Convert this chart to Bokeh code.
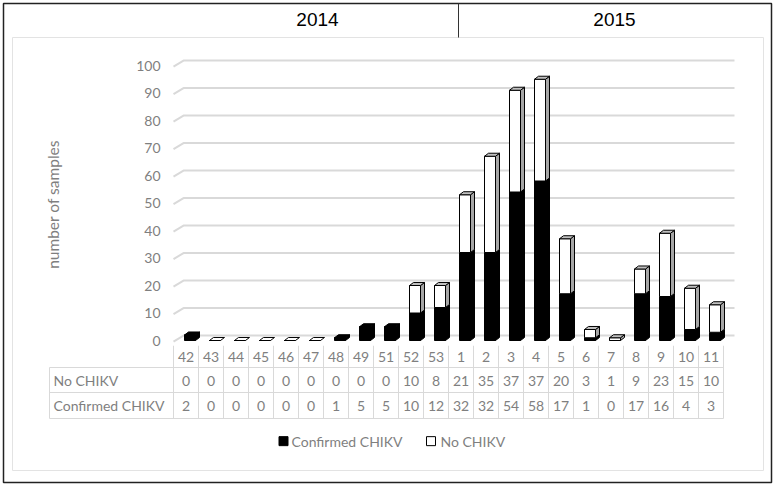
from bokeh.plotting import figure
from bokeh.models import Range1d, ColumnDataSource
from bokeh.core.properties import value
from bokeh.embed import file_html
from bokeh.resources import INLINE
import math

# ---------------- data ----------------
weeks = ["42", "43", "44", "45", "46", "47", "48", "49", "51", "52", "53",
         "1", "2", "3", "4", "5", "6", "7", "8", "9", "10", "11"]
confirmed = [2, 0, 0, 0, 0, 0, 1, 5, 5, 10, 12, 32, 32, 54, 58, 17, 1, 0, 17, 16, 4, 3]
no_chikv = [0, 0, 0, 0, 0, 0, 0, 0, 0, 10, 8, 21, 35, 37, 37, 20, 3, 1, 9, 23, 15, 10]
years = ["2014", "2015"]
y_ticks = [0, 10, 20, 30, 40, 50, 60, 70, 80, 90, 100]
series_names = ["No CHIKV", "Confirmed CHIKV"]

# ---------------- style / geometry ----------------
GRAY_TXT = "#7f7f7f"
GRID = "#d9d9d9"
FONT = value("Lato")
BAR_OFF = 0.16      # bar front face shift (category units)
BAR_W = 0.44        # bar front width
DX = 0.16           # bar depth in x
DY = 1.1            # bar depth in y (value units)

n = len(weeks)
idx = list(range(n))

p = figure(width=775, height=486, output_backend="svg", toolbar_location=None,
           x_range=Range1d(-7.42, 23.58), y_range=Range1d(-53.09, 123.64),
           x_axis_location=None, y_axis_location=None, min_border=0)
p.outline_line_color = None
p.background_fill_color = "white"
p.border_fill_color = "white"
for g in p.grid:
    g.visible = False

# outer black border
p.quad(left=[-7.3], right=[23.42], top=[122.55], bottom=[-51.64],
       fill_color=None, line_color="#222222", line_width=1.5)

# inner chart frame
p.quad(left=[-6.94], right=[23.1], top=[110.18], bottom=[-47.27],
       fill_color=None, line_color="#e3e3e3", line_width=1)

# year band
p.segment(x0=[10.9], y0=[122.55], x1=[10.9], y1=[110.18], line_color="#333333", line_width=1)
p.text(x=[5.26, 17.14], y=[116.7, 116.7], text=years, text_align="center",
       text_baseline="middle", text_font=value("Liberation Sans"),
       text_font_size="19px", text_color="black")

# gridlines (back wall, with 3D slant)
gx, gy = [], []
for t in y_ticks:
    gx.append([-0.5, -0.1, 21.94])
    gy.append([t - 0.4, t + 1.8, t + 1.8])
p.multi_line(xs=gx, ys=gy, line_color=GRID, line_width=2)

# y tick labels
p.text(x=[-1.02] * len(y_ticks), y=y_ticks, text=[str(t) for t in y_ticks],
       text_align="right", text_baseline="middle", text_font=FONT,
       text_font_size="14px", text_color=GRAY_TXT)

# y axis title
p.text(x=[-5.34], y=[49.5], text=["number of samples"], angle=math.pi / 2,
       text_align="center", text_baseline="middle", text_font=FONT,
       text_font_size="15.5px", text_color=GRAY_TXT)

# ---------------- 3D stacked bars ----------------
totals = [c + m for c, m in zip(confirmed, no_chikv)]
xc = [i + BAR_OFF for i in idx]

side_xs, side_ys, side_fill = [], [], []
top_xs, top_ys, top_fill = [], [], []
for i in idx:
    x0 = xc[i] - BAR_W / 2
    x1 = xc[i] + BAR_W / 2
    c = confirmed[i]
    t = totals[i]
    if c > 0:
        side_xs.append([x1, x1 + DX, x1 + DX, x1])
        side_ys.append([0, DY, c + DY, c])
        side_fill.append("black")
    if no_chikv[i] > 0:
        side_xs.append([x1, x1 + DX, x1 + DX, x1])
        side_ys.append([c, c + DY, t + DY, t])
        side_fill.append("#a6a6a6")
    top_xs.append([x0, x0 + DX, x1 + DX, x1])
    top_ys.append([t, t + DY, t + DY, t])
    if t == 0:
        top_fill.append("white")
    elif no_chikv[i] > 0:
        top_fill.append("#bfbfbf")
    else:
        top_fill.append("black")

src = ColumnDataSource(dict(x=xc, conf=confirmed, tot=totals,
                            zero=[0] * n))
p.patches(xs=side_xs, ys=side_ys, fill_color=side_fill, line_color="black", line_width=1)
p.vbar(x="x", width=BAR_W, bottom="zero", top="conf", source=src,
       fill_color="black", line_color="black", line_width=1)
p.vbar(x="x", width=BAR_W, bottom="conf", top="tot", source=src,
       fill_color="white", line_color="black", line_width=1)
p.patches(xs=top_xs, ys=top_ys, fill_color=top_fill, line_color="black", line_width=1)

# ---------------- data table ----------------
ROW_CAT = -5.82
ROW_NO = -14.55
ROW_CONF = -23.64
LINES_Y = [-9.82, -18.91, -28.36]
TABLE_LEFT = -5.46

# vertical column lines
p.segment(x0=[k - 0.5 for k in range(n + 1)], y0=[-1.9] * (n + 1),
          x1=[k - 0.5 for k in range(n + 1)], y1=[LINES_Y[-1]] * (n + 1),
          line_color=GRID, line_width=1)
p.segment(x0=[TABLE_LEFT], y0=[LINES_Y[0]], x1=[TABLE_LEFT], y1=[LINES_Y[-1]],
          line_color=GRID, line_width=1)
p.segment(x0=[TABLE_LEFT] * 3, y0=LINES_Y, x1=[n - 0.5] * 3, y1=LINES_Y,
          line_color=GRID, line_width=1)

p.text(x=idx, y=[ROW_CAT] * n, text=weeks, text_align="center", text_baseline="middle",
       text_font=FONT, text_font_size="14px", text_color=GRAY_TXT)
p.text(x=idx, y=[ROW_NO] * n, text=[str(v) for v in no_chikv], text_align="center",
       text_baseline="middle", text_font=FONT, text_font_size="14px", text_color=GRAY_TXT)
p.text(x=idx, y=[ROW_CONF] * n, text=[str(v) for v in confirmed], text_align="center",
       text_baseline="middle", text_font=FONT, text_font_size="14px", text_color=GRAY_TXT)
p.text(x=[-5.3, -5.3], y=[ROW_NO, ROW_CONF], text=series_names, text_align="left",
       text_baseline="middle", text_font=FONT, text_font_size="14px", text_color=GRAY_TXT)

# ---------------- legend ----------------
LEG_Y = -36.6
p.scatter(x=[3.9, 9.8], y=[LEG_Y, LEG_Y], marker="square", size=9,
          fill_color=["black", "white"], line_color="black", line_width=1)
p.text(x=[4.22, 10.18], y=[LEG_Y, LEG_Y], text=["Confirmed CHIKV", "No CHIKV"],
       text_align="left", text_baseline="middle", text_font=FONT,
       text_font_size="14px", text_color=GRAY_TXT)

open("out.html", "w").write(file_html(p, INLINE))
